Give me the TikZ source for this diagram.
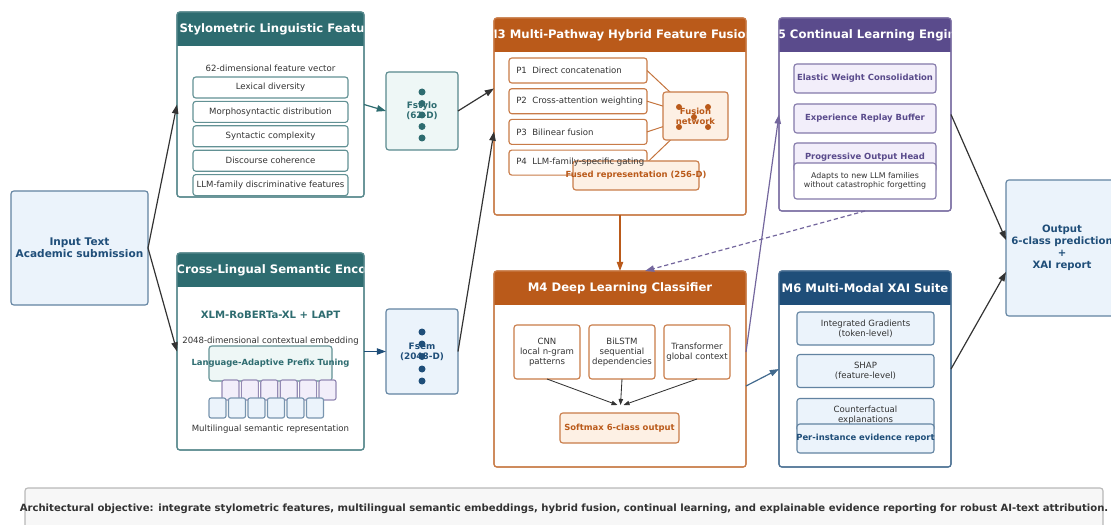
\documentclass[tikz,border=0pt]{standalone}
\usepackage{fontspec}
\setmainfont{DejaVu Sans}
\usetikzlibrary{arrows.meta}
\definecolor{tealhead}{RGB}{46,108,112}
\definecolor{tealfill}{RGB}{238,247,246}
\definecolor{orangehead}{RGB}{186,90,26}
\definecolor{orangefill}{RGB}{253,240,228}
\definecolor{purplehead}{RGB}{90,75,140}
\definecolor{purplefill}{RGB}{242,238,250}
\definecolor{bluehead}{RGB}{31,78,121}
\definecolor{bluefill}{RGB}{235,243,251}
\definecolor{txt}{RGB}{51,51,51}
\colorlet{arr}{txt}
\newcommand\pxu{0.025cm}

\begin{document}
\begin{tikzpicture}[x=0.025cm,y=-0.025cm,
  wh/.style 2 args={minimum width=#1*\pxu,minimum height=#2*\pxu},
  cell/.style={draw=#1,line width=0.8pt,rounded corners=2pt,inner sep=0pt,outer sep=0pt},
  head/.style={text=white,font=\fontsize{8.3}{9.9}\selectfont\bfseries},
  body/.style={text=txt,font=\fontsize{6.1}{7.1}\selectfont,align=center},
  strong/.style={font=\fontsize{6}{7.1}\selectfont\bfseries,align=center},
  link/.style={draw=#1,line width=0.85pt,-{Triangle[length=2.3mm,width=1.6mm]}},
  link/.default=arr,
  inlink/.style={draw=arr,line width=0.6pt,-{Triangle[length=1.5mm,width=1.1mm]}},
  dot/.style={circle,fill=#1,inner sep=0pt,minimum size=7*\pxu},
]
\clip (0,0) rectangle (1111,525);

\node[cell=bluehead!70,fill=bluefill,wh={137}{114},text=bluehead,
  font=\fontsize{7.5}{8.8}\selectfont\bfseries,align=center] (input) at (79.5,248) {Input Text\\Academic submission};

% modules with coloured title bars
\foreach \nm/\cx/\cy/\w/\h/\col/\title in {
  m1/270.5/104.5/187/185/tealhead/M1 Stylometric Linguistic Features,
  m2/270.5/351.5/187/197/tealhead/M2 Cross-Lingual Semantic Encoder,
  m3/620/116.5/252/197/orangehead/M3 Multi-Pathway Hybrid Feature Fusion,
  m4/620/369/252/196/orangehead/M4 Deep Learning Classifier,
  m5/865/114.5/172/193/purplehead/M5 Continual Learning Engine,
  m6/865/369/172/196/bluehead/M6 Multi-Modal XAI Suite}
{
  \node[cell=\col!80,fill=white,wh={\w}{\h}] (\nm) at (\cx,\cy) {};
  \begin{scope}
    \clip[rounded corners=2pt] (\nm.south west) rectangle (\nm.north east);
    \fill[\col] (\nm.north west) rectangle ([yshift=-34*\pxu]\nm.north east);
    \node[head] (\nm-title) at ([yshift=-17*\pxu]\nm.north) {\title};
  \end{scope}
  \draw[\col!80,line width=0.8pt,rounded corners=2pt] (\nm.south west) rectangle (\nm.north east);
}

% M1
\node[body] (m1-sub) at (270.5,68) {62-dimensional feature vector};
\foreach \t [count=\i] in {Lexical diversity,Morphosyntactic distribution,Syntactic complexity,
    Discourse coherence,LLM-family discriminative features}
  \node[cell=tealhead!75,fill=white,wh={155}{21},body] (feat\i) at (270.5,{87.5+24.4*(\i-1)}) {\t};

\node[cell=tealhead!80,fill=tealfill,wh={72}{78},strong,text=tealhead,
  font=\fontsize{6.3}{7.3}\selectfont\bfseries] (fstylo) at (422,111) {Fstylo\\(62-D)};
\foreach \dy [count=\i] in {92,103.5,115,126.5,138}
  \node[dot=tealhead] (sdot\i) at (422,\dy) {};

% M2
\node[text=tealhead,font=\fontsize{7.2}{8.6}\selectfont\bfseries] (xlmr) at (270.5,315) {XLM-RoBERTa-XL + LAPT};
\node[body] (m2-sub) at (270.5,341) {2048-dimensional contextual embedding};
\node[cell=tealhead!75,fill=tealfill,wh={123}{35}] (lapt) at (270.5,363.5) {};
\node[strong,text=tealhead] (lapt-text) at (lapt) {Language-Adaptive Prefix Tuning};
\foreach \i in {0,...,5} {
  \node[cell=purplehead!65,fill=purplefill,wh={17}{20},rounded corners=1.5pt] (pfx\i) at (230.5+19.4*\i,390) {};
}
\foreach \i in {0,...,5} {
  \node[cell=bluehead!60,fill=bluefill,wh={17}{20},rounded corners=1.5pt] (tok\i) at (217.5+19.5*\i,408) {};
}
\node[body] (m2-rep) at (270.5,429) {Multilingual semantic representation};

\node[cell=bluehead!70,fill=bluefill,wh={72}{85},strong,text=bluehead,
  font=\fontsize{6.3}{7.3}\selectfont\bfseries] (fsem) at (422,351.5) {Fsem\\(2048-D)};
\foreach \dy [count=\i] in {332,344,356.5,369,381}
  \node[dot=bluehead] (edot\i) at (422,\dy) {};

% M3
\coordinate (fusion-c) at (695.5,116);
\foreach \i in {1,...,4} {
  \node[cell=orangehead!80,fill=white,wh={138}{25}] (p\i) at (578,{70.5+30.7*(\i-1)}) {};
  \draw[orangehead!85,line width=0.7pt] (p\i.east) -- (fusion-c);
}
\node[cell=orangehead!80,fill=orangefill,wh={65}{48}] (fusion) at (fusion-c) {};
\foreach \dx/\dy [count=\i] in {679/107,708/107,694/117,679/127,708/127}
  \node[dot=orangehead,minimum size=6*\pxu] (ndot\i) at (\dx,\dy) {};
\node[strong,text=orangehead] (fusion-text) at (fusion) {Fusion\\network};
\node[cell=orangehead!80,fill=orangefill,wh={126}{29}] (fused) at (636,175.5) {};
\foreach \t [count=\i] in {Direct concatenation,Cross-attention weighting,Bilinear fusion,LLM-family-specific gating}
  \node[body,anchor=west,inner sep=0pt] (p\i-text) at ([xshift=7*\pxu]p\i.west) {P\i~~\t};
\node[strong,text=orangehead] (fused-text) at (fused) {Fused representation (256-D)};

% M4
\foreach \nm/\cx/\t in {cnn/547/CNN\\local n-gram\\patterns,bilstm/622/BiLSTM\\sequential\\dependencies,
    trans/697/Transformer\\global context}
  \node[cell=orangehead!80,fill=white,wh={66}{54},body] (\nm) at (\cx,352) {\t};
\node[cell=orangehead!80,fill=orangefill,wh={119}{30},strong,text=orangehead] (soft) at (619.5,428) {Softmax 6-class output};
\coordinate (soft-in) at ([yshift=8*\pxu]soft.north);
\draw[inlink] (cnn.south) -- ([xshift=-2*\pxu]soft-in);
\draw[inlink] (bilstm.south) -- ([xshift=1*\pxu]soft-in);
\draw[inlink] (trans.south) -- ([xshift=4*\pxu]soft-in);

% M5
\foreach \nm/\cy/\t in {ewc/78.5/Elastic Weight Consolidation,erb/118.5/Experience Replay Buffer,
    poh/157.5/Progressive Output Head}
  \node[cell=purplehead!75,fill=purplefill,wh={142}{29},strong,text=purplehead] (\nm) at (865,\cy) {\t};
\node[cell=purplehead!75,fill=white,wh={142}{36},body,font=\fontsize{5.6}{6.6}\selectfont] (adapt) at (865,181)
  {Adapts to new LLM families\\without catastrophic forgetting};

% M6
\foreach \nm/\cy/\t in {ig/328.5/Integrated Gradients\\(token-level),shap/371/SHAP\\(feature-level),
    cf/415/Counterfactual\\explanations}
  \node[cell=bluehead!70,fill=bluefill,wh={137}{33},body] (\nm) at (865.5,\cy) {\t};
\node[cell=bluehead!70,fill=bluefill,wh={137}{29}] (report) at (865.5,438.5) {};
\node[strong,text=bluehead] (report-text) at (report) {Per-instance evidence report};

\node[cell=bluehead!70,fill=bluefill,wh={112}{136},text=bluehead,
  font=\fontsize{7.2}{8.4}\selectfont\bfseries,align=center] (output) at (1062,248)
  {Output\\6-class prediction\\+\\XAI report};

% objective banner
\node[cell=black!28,fill=black!3,wh={1078}{44}] (note) at (564,510) {};
\node[text=txt,font=\fontsize{7.1}{8.5}\selectfont\bfseries] (note-text) at (564,509)
  {\resizebox{27.2cm}{\height}{Architectural objective: integrate stylometric features, multilingual semantic embeddings, hybrid fusion, continual learning, and explainable evidence reporting for robust AI-text attribution.}};

% connectors
\draw[link] (input.east) -- (m1.west);
\draw[link] (input.east) -- (m2.west);
\draw[link=tealhead] (m1.east) -- (fstylo.west);
\draw[link=bluehead] (m2.east) -- (fsem.west);
\draw[link] (fstylo.east) -- ([yshift=28*\pxu]m3.west);
\draw[link] (fsem.east) -- ([yshift=-15*\pxu]m3.west);
\draw[link=orangehead] (m3.south) -- (m4.north);
\draw[link=purplehead!85,dash pattern=on 3pt off 2pt] (m5.south) -- ([xshift=25*\pxu]m4.north);
\draw[link=purplehead!85] ([yshift=17*\pxu]m4.east) -- (m5.west);
\draw[link=bluehead!85] ([yshift=-17*\pxu]m4.east) -- (m6.west);
\draw[link] (m5.east) -- ([yshift=8*\pxu]output.west);
\draw[link] (m6.east) -- ([yshift=-24*\pxu]output.west);
\end{tikzpicture}
\end{document}
